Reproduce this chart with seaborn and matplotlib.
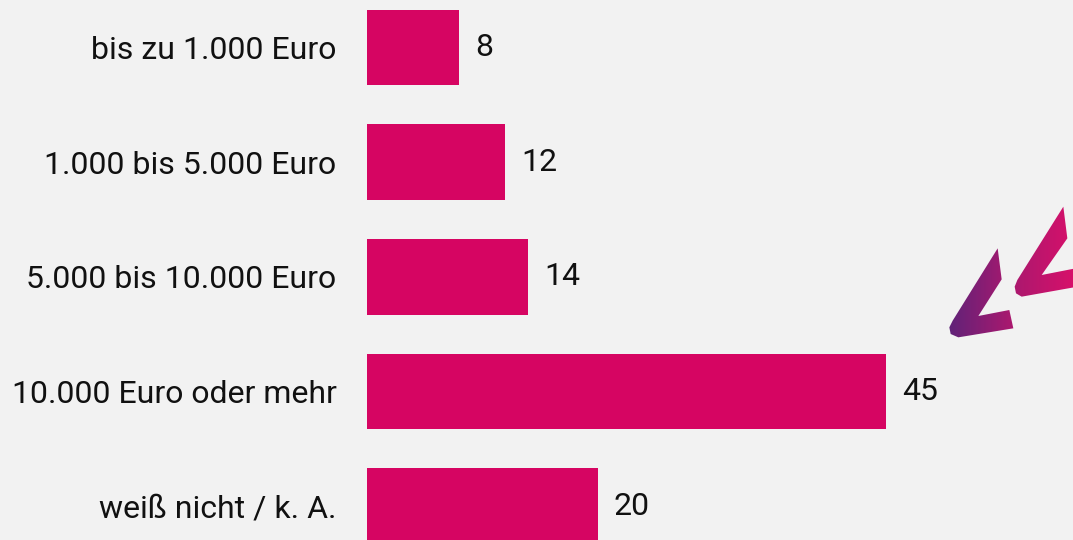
import matplotlib
matplotlib.use("Agg")
import matplotlib.pyplot as plt
import seaborn as sns
import numpy as np
import pandas as pd
from matplotlib.patches import Polygon
from matplotlib.colors import LinearSegmentedColormap

categories = ["bis zu 1.000 Euro", "1.000 bis 5.000 Euro", "5.000 bis 10.000 Euro",
              "10.000 Euro oder mehr", "weiß nicht / k. A."]
values = [8, 12, 14, 45, 20]

BG = "#f2f2f2"
BAR = "#d60562"

sns.set_theme(style="white")
plt.rcParams["font.family"] = ["Roboto", "DejaVu Sans"]

W, H = 1073, 540
fig = plt.figure(figsize=(W / 100, H / 100), dpi=100, facecolor=BG)
ax = fig.add_axes([367 / W, 0, (W - 367) / W, 1])
ax.set_facecolor(BG)

df = pd.DataFrame({"cat": categories, "val": values})
sns.barplot(data=df, x="val", y="cat", orient="h", color=BAR, width=0.66,
            saturation=1, ax=ax, edgecolor="none", linewidth=0)

ax.set_xlim(0, (W - 367) / 11.53)
ax.set_ylim(4.294, -0.414)
for s in ax.spines.values():
    s.set_visible(False)
ax.set_xticks([])
ax.set_xlabel("")
ax.set_ylabel("")
ax.tick_params(axis="y", length=0, pad=22, labelsize=23, labelcolor="#111111")
for c in ax.containers:
    ax.bar_label(c, labels=[str(v) for v in values], padding=11.5, fontsize=23, color="#111111")

# decorative chevrons
deco = fig.add_axes([0, 0, 1, 1], facecolor="none")
deco.set_xlim(0, W)
deco.set_ylim(H, 0)
deco.axis("off")

def conv(pts):
    return [(930 + x / 3, 190 + y / 3) for x, y in pts]

small = conv([(203, 175), (215, 268), (145, 378), (238, 360), (250, 415), (85, 442),
              (62, 432), (58, 412), (68, 392)])
large = conv([(400, 50), (412, 145), (335, 255), (432, 236), (432, 292), (275, 320),
              (258, 310), (254, 290), (262, 270)])

cmap = LinearSegmentedColormap.from_list("g", ["#5b2379", "#a8196f", "#d8106a"])
grad = np.linspace(0, 1, 256).reshape(1, -1)
for pts in (small, large):
    poly = Polygon(pts, closed=True, facecolor="none", edgecolor="none")
    deco.add_patch(poly)
    im = deco.imshow(grad, cmap=cmap, extent=(945, 1075, 350, 200), aspect="auto",
                     interpolation="bilinear")
    im.set_clip_path(poly)

fig.savefig("out.png", dpi=100, facecolor=BG)
